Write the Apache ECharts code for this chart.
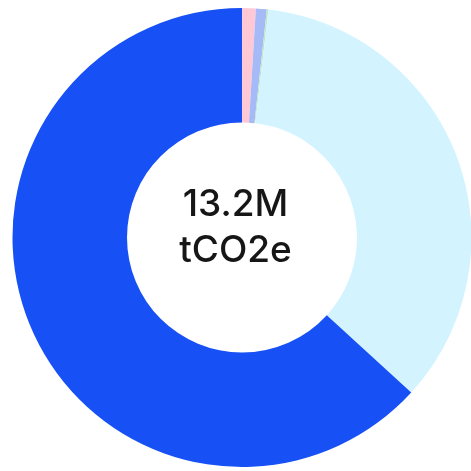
<!DOCTYPE html>
<html>
<head>
<meta charset="utf-8">
<script src="https://cdn.jsdelivr.net/npm/echarts@6/dist/echarts.min.js"></script>
<style>
html,body{margin:0;padding:0;background:#fff;}
#main{width:471px;height:471px;}
</style>
</head>
<body>
<div id="main"></div>
<script>
const categories = ["Category A", "Category B", "Category C", "Category D", "Category E"];
const values = [0.127, 0.101, 0.015, 4.615, 8.342]; // MtCO2e
const colors = ["#ffc8d4", "#a6baf7", "#b9e8c8", "#d3f4ff", "#1751f5"];
const centerLabel = ["13.2M", "tCO2e"];

const chart = echarts.init(document.getElementById('main'));
chart.setOption({
  animation: false,
  series: [{
    type: 'pie',
    center: [242, 237.5],
    radius: [115, 229.5],
    startAngle: 90,
    clockwise: true,
    label: { show: false },
    labelLine: { show: false },
    emphasis: { disabled: true },
    itemStyle: { borderWidth: 0 },
    data: categories.map((c, i) => ({ name: c, value: values[i], itemStyle: { color: colors[i] } }))
  }],
  graphic: [{
    type: 'text',
    x: 235.5,
    y: 228,
    style: {
      text: centerLabel.join('\n'),
      font: '500 37px Inter',
      lineHeight: 46,
      fill: '#161616',
      align: 'center',
      verticalAlign: 'middle'
    }
  }]
});
</script>
</body>
</html>
